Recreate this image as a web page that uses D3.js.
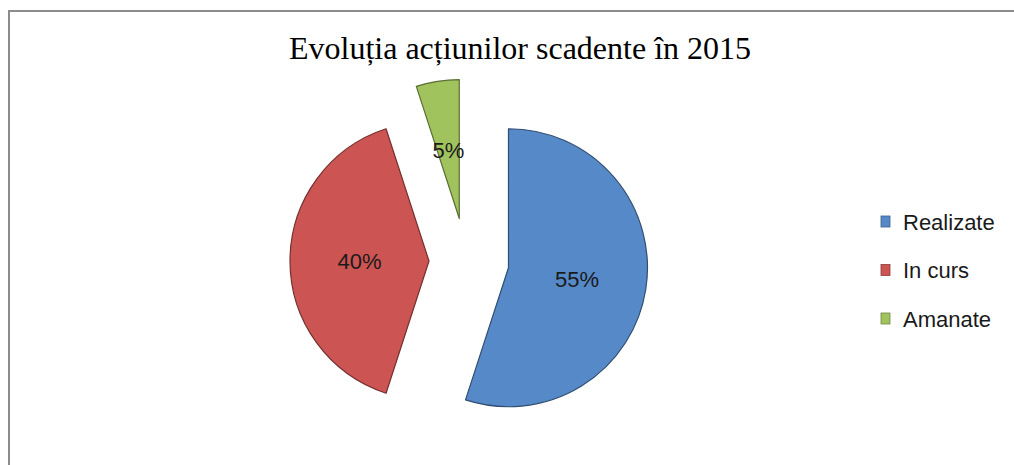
<!DOCTYPE html>
<html>
<head>
<meta charset="utf-8">
<script src="https://cdn.jsdelivr.net/npm/d3@7"></script>
<style>
  body { margin: 0; background: #fff; }
  #chart { width: 1014px; height: 465px; }
</style>
</head>
<body>
<div id="chart"></div>
<script>
// date grafic
const title = "Evoluția acțiunilor scadente în 2015";
const categories = ["Realizate", "In curs", "Amanate"];
const values = [55, 40, 5];
const colors = ["#5689C8", "#CC5553", "#A0C35E"];

// explodare per felie (px)
const explode = [43, 37, 43];

const width = 1014, height = 465;
const cx = 466, cy = 261, radius = 139;

const svg = d3.select("#chart").append("svg")
    .attr("width", width)
    .attr("height", height);

// chenarul graficului (iese din imagine la dreapta si jos)
svg.append("rect")
    .attr("x", 9)
    .attr("y", 11)
    .attr("width", width + 20)
    .attr("height", height + 20)
    .attr("fill", "#fff")
    .attr("stroke", "#8c8c8c")
    .attr("stroke-width", 2);

// titlu
svg.append("text")
    .attr("x", 520)
    .attr("y", 59)
    .attr("text-anchor", "middle")
    .style("font-family", "'Liberation Serif', 'DejaVu Serif', serif")
    .style("font-size", "32px")
    .style("fill", "#000")
    .text(title);

const pie = d3.pie().sort(null).value(d => d)(values);
const arc = d3.arc().innerRadius(0).outerRadius(radius);

const slices = svg.selectAll(".slice")
    .data(pie)
    .enter().append("g")
        .attr("class", "slice")
        .attr("transform", (d, i) => {
            const mid = (d.startAngle + d.endAngle) / 2;
            const x = cx + Math.sin(mid) * explode[i];
            const y = cy - Math.cos(mid) * explode[i];
            return `translate(${x},${y})`;
        });

slices.append("path")
    .attr("d", arc)
    .attr("fill", (d, i) => colors[i])
    .attr("stroke", (d, i) => d3.color(colors[i]).darker(1.6))
    .attr("stroke-width", 1.2)
    .attr("stroke-linejoin", "round");

// etichete procente
slices.append("text")
    .attr("transform", d => {
        const mid = (d.startAngle + d.endAngle) / 2;
        return `translate(${Math.sin(mid) * radius * 0.5},${-Math.cos(mid) * radius * 0.5})`;
    })
    .attr("dy", "0.36em")
    .attr("text-anchor", "middle")
    .style("font-family", "'Liberation Sans', Arial, sans-serif")
    .style("font-size", "22px")
    .style("fill", "#1a1a1a")
    .text(d => d.data + "%");

// legenda
const legend = svg.selectAll(".legend")
    .data(categories)
    .enter().append("g")
        .attr("class", "legend")
        .attr("transform", (d, i) => `translate(881,${222 + i * 48.5})`);

legend.append("rect")
    .attr("x", 0)
    .attr("y", -6)
    .attr("width", 9)
    .attr("height", 11)
    .attr("fill", (d, i) => colors[i])
    .attr("stroke", (d, i) => d3.color(colors[i]).darker(1))
    .attr("stroke-width", 0.8);

legend.append("text")
    .attr("x", 22)
    .attr("dy", "0.36em")
    .style("font-family", "'Liberation Sans', Arial, sans-serif")
    .style("font-size", "22px")
    .style("fill", "#1a1a1a")
    .text(d => d);
</script>
</body>
</html>
